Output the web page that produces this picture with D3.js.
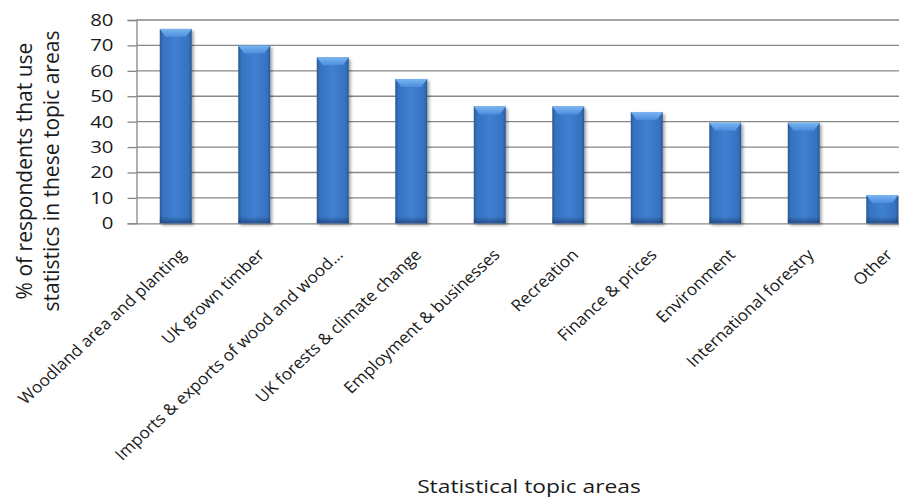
<!DOCTYPE html>
<html>
<head>
<meta charset="utf-8">
<script src="https://cdn.jsdelivr.net/npm/d3@7"></script>
<style>
  html, body { margin: 0; padding: 0; background: #ffffff; }
  svg { display: block; }
  text { font-family: "Open Sans", "DejaVu Sans", sans-serif; fill: #1a1a1a; }
</style>
</head>
<body>
<div id="chart"></div>
<script>
const categories = [
  "Woodland area and planting",
  "UK grown timber",
  "Imports & exports of wood and wood…",
  "UK forests & climate change",
  "Employment & businesses",
  "Recreation",
  "Finance & prices",
  "Environment",
  "International forestry",
  "Other"
];
const values = [76.5, 70, 65.3, 56.8, 46, 46, 43.8, 39.6, 39.6, 11.1];
const yTicks = [0, 10, 20, 30, 40, 50, 60, 70, 80];
const yTitleLines = ["% of respondents that use", "statistics in these topic areas"];
const xTitle = "Statistical topic areas";

const W = 899, H = 499;
const SX = 1.2;  // horizontal stretch of horizontal texts
const SXL = 1.08; // horizontal stretch of the slanted category labels
const svg = d3.select("#chart").append("svg").attr("width", W).attr("height", H);

const defs = svg.append("defs");
const body = defs.append("linearGradient").attr("id", "barBody").attr("x1", 0).attr("x2", 1).attr("y1", 0).attr("y2", 0);
[[0, "#2a5896"], [0.1, "#3672c0"], [0.5, "#3f80d2"], [0.9, "#3672c0"], [1, "#2a5896"]]
  .forEach(([o, c]) => body.append("stop").attr("offset", o).attr("stop-color", c));
const topG = defs.append("linearGradient").attr("id", "barTop").attr("x1", 0).attr("x2", 0).attr("y1", 0).attr("y2", 1);
[[0, "#7ab6f2"], [1, "#4c8ddc"]].forEach(([o, c]) => topG.append("stop").attr("offset", o).attr("stop-color", c));
const botG = defs.append("linearGradient").attr("id", "barBot").attr("x1", 0).attr("x2", 0).attr("y1", 0).attr("y2", 1);
[[0, "rgba(20,45,90,0)"], [1, "rgba(20,45,90,0.55)"]].forEach(([o, c]) => botG.append("stop").attr("offset", o).attr("stop-color", c));
const sh = defs.append("filter").attr("id", "shadow").attr("x", "-30%").attr("y", "-10%").attr("width", "160%").attr("height", "130%");
sh.append("feDropShadow").attr("dx", 2).attr("dy", 2).attr("stdDeviation", 1.8).attr("flood-color", "#000").attr("flood-opacity", 0.35);

const plotLeft = 136.5, plotRight = 921.5, plotTop = 20, plotBottom = 223.3;

const x = d3.scaleBand().domain(categories).range([plotLeft, plotRight]).paddingInner(0.593).paddingOuter(0.2965);
const y = d3.scaleLinear().domain([0, 80]).range([plotBottom, plotTop]);

// gridlines
svg.append("g").selectAll("line").data(yTicks.filter(d => d > 0)).join("line")
  .attr("x1", plotLeft).attr("x2", plotRight)
  .attr("y1", d => y(d)).attr("y2", d => y(d))
  .attr("stroke", "#878787").attr("stroke-width", 1.3);

// y axis
const yAxis = svg.append("g").attr("transform", `translate(${plotLeft},0)`)
  .call(d3.axisLeft(y).tickValues(yTicks).tickSize(9).tickPadding(0).tickFormat(d3.format("d")));
yAxis.select(".domain").attr("stroke", "#878787").attr("stroke-width", 1.3);
yAxis.selectAll(".tick line").attr("stroke", "#878787").attr("stroke-width", 1.3);
yAxis.selectAll(".tick text").attr("font-size", 17).attr("fill", "#1a1a1a")
  .style("font-family", '"Open Sans", sans-serif')
  .attr("x", 0)
  .attr("transform", `translate(-23,0) scale(${SX},1)`);

// x axis baseline and labels
const xAxis = svg.append("g").attr("transform", `translate(0,${plotBottom})`)
  .call(d3.axisBottom(x).tickSize(0).tickPadding(0));
xAxis.select(".domain").attr("stroke", "#878787").attr("stroke-width", 1.3);
xAxis.selectAll(".tick text")
  .attr("font-size", 16)
  .attr("text-anchor", "end")
  .attr("fill", "#1a1a1a")
  .style("font-family", '"Open Sans", sans-serif')
  .attr("transform", `translate(2,24) scale(${SXL},1) rotate(-45)`)
  .attr("dy", "0.75em")
  .attr("y", 0).attr("x", 0);

// bars
const bars = svg.append("g").selectAll("g").data(values.map((v, i) => ({ c: categories[i], v }))).join("g");
bars.append("rect")
  .attr("x", d => x(d.c)).attr("width", x.bandwidth())
  .attr("y", d => y(d.v)).attr("height", d => y(0) - y(d.v))
  .attr("fill", "url(#barBody)").attr("filter", "url(#shadow)");
bars.append("path")
  .attr("d", d => {
    const x0 = x(d.c), x1 = x0 + x.bandwidth(), t = y(d.v);
    return `M${x0},${t}L${x1},${t}L${x1 - 6},${t + 8}L${x0 + 6},${t + 8}Z`;
  })
  .attr("fill", "url(#barTop)");
bars.append("rect")
  .attr("x", d => x(d.c)).attr("width", x.bandwidth())
  .attr("y", y(0) - 7).attr("height", 7)
  .attr("fill", "url(#barBot)");

// y title
const yt = svg.append("text").attr("transform", "translate(0,171) rotate(-90)")
  .attr("text-anchor", "middle").attr("font-size", 21);
yt.selectAll("tspan").data(yTitleLines).join("tspan")
  .attr("x", 0).attr("y", (d, i) => 32 + i * 27).text(d => d);

// x title
svg.append("text")
  .attr("transform", `translate(${(plotLeft + plotRight) / 2},493) scale(${SX},1)`)
  .attr("text-anchor", "middle").attr("font-size", 19).text(xTitle);
</script>
</body>
</html>
